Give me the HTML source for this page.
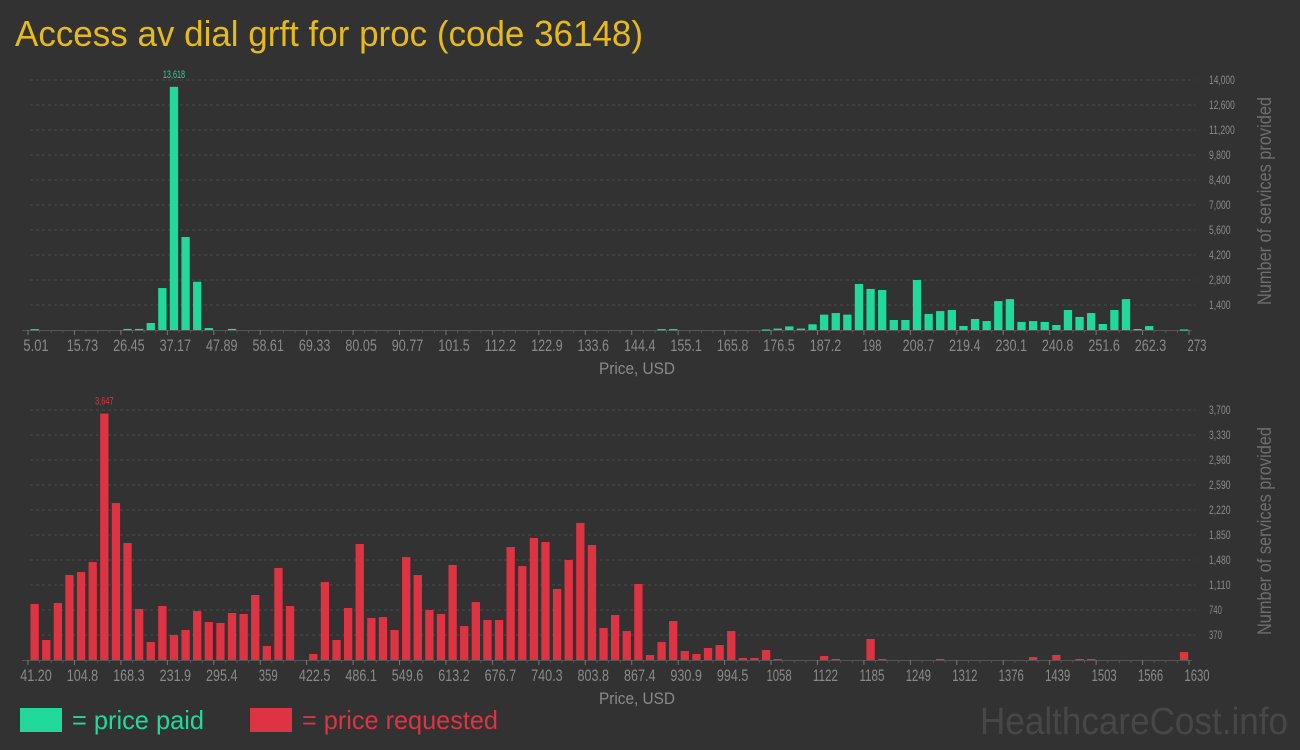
<!DOCTYPE html>
<html><head><meta charset="utf-8"><title>Access av dial grft for proc (code 36148)</title>
<style>
html,body{margin:0;padding:0;background:#323232;}
svg{display:block;font-family:"Liberation Sans Narrow","Liberation Sans",sans-serif;}
</style></head>
<body>
<svg id="chart" width="1300" height="750" viewBox="0 0 1300 750" xmlns="http://www.w3.org/2000/svg">
<rect x="0" y="0" width="1300" height="750" fill="#323232"/>
<text x="15" y="46" font-size="36" fill="#e6b91e" textLength="628" lengthAdjust="spacingAndGlyphs">Access av dial grft for proc (code 36148)</text>
<g id="top"></g>
<g id="bottom"></g>
<rect x="20" y="708" width="42" height="24" fill="#20d99b"/>
<text x="72" y="729" font-size="26" fill="#20d99b" textLength="132" lengthAdjust="spacingAndGlyphs">= price paid</text>
<rect x="250" y="708" width="42" height="24" fill="#dd3342"/>
<text x="302" y="729" font-size="26" fill="#dd3342" textLength="196" lengthAdjust="spacingAndGlyphs">= price requested</text>
<text x="980" y="734" font-size="38" fill="#474747" textLength="308" lengthAdjust="spacingAndGlyphs">HealthcareCost.info</text>
</svg>
<script>
// ---- top chart data (price paid) ----
const topTickLabels = ["5.01","15.73","26.45","37.17","47.89","58.61","69.33","80.05","90.77","101.5","112.2","122.9","133.6","144.4","155.1","165.8","176.5","187.2","198","208.7","219.4","230.1","240.8","251.6","262.3","273"];
const topBins = [0,8,9,10,11,12,13,14,15,17,54,55,63,64,65,66,67,68,69,70,71,72,73,74,75,76,77,78,79,80,81,82,83,84,85,86,87,88,89,90,91,92,93,94,95,96,99];
const topValues = [50,60,60,392,2350,13618,5208,2700,112,60,50,50,30,80,200,80,320,860,950,860,2580,2300,2240,560,560,2800,900,1060,1120,225,616,500,1620,1730,450,500,450,280,1120,730,950,336,1120,1730,56,220,30];
const topYTicks = [1400,2800,4200,5600,7000,8400,9800,11200,12600,14000];
// ---- bottom chart data (price requested) ----
const botTickLabels = ["41.20","104.8","168.3","231.9","295.4","359","422.5","486.1","549.6","613.2","676.7","740.3","803.8","867.4","930.9","994.5","1058","1122","1185","1249","1312","1376","1439","1503","1566","1630"];
const botBins = [0,1,2,3,4,5,6,7,8,9,10,11,12,13,14,15,16,17,18,19,20,21,22,24,25,26,27,28,29,30,31,32,33,34,35,36,37,38,39,40,41,42,43,44,45,46,47,48,49,50,51,52,53,54,55,56,57,58,59,60,61,62,63,64,68,69,72,73,78,86,88,90,91,99];
const botValues = [829,296,844,1258,1302,1450,3647,2323,1732,755,266,799,370,444,725,562,548,696,681,962,207,1362,799,89,1154,296,770,1717,622,636,444,1524,1258,740,681,1406,503,858,592,592,1672,1391,1806,1746,1051,1480,2028,1702,474,666,429,1125,74,266,577,133,89,178,222,429,30,30,148,15,59,15,311,15,15,44,74,15,15,118];
const botYTicks = [370,740,1110,1480,1850,2220,2590,2960,3330,3700];

const NS = "http://www.w3.org/2000/svg";
function mk(tag, attrs, parent){const e=document.createElementNS(NS,tag);for(const k in attrs)e.setAttribute(k,attrs[k]);parent.appendChild(e);return e;}
function fmt(v){return v.toLocaleString("en-US");}

function drawChart(g, cfg){
  const x0=28, x1=1189, nb=100, bw=(x1-x0)/nb;
  const xBin=i=>x0+i*bw;
  const yS=v=>cfg.base-(v/cfg.max)*(cfg.base-cfg.top);
  cfg.yTicks.forEach(t=>{
    const y=yS(t);
    const ln=mk("line",{x1:30,x2:1195,y1:y,y2:y,stroke:"#4a4a4a","stroke-dasharray":"3,3","stroke-width":1},g);
    
    
    const s=fmt(t);
    const tx=mk("text",{x:1209,y:y+4,"font-size":12,fill:"#8a8a8a",textLength:s.length*4.3,lengthAdjust:"spacingAndGlyphs"},g);
    tx.textContent=s;
    
    
  });
  const ax=mk("line",{x1:22,x2:1192,y1:cfg.base+0.5,y2:cfg.base+0.5,stroke:"#555","stroke-width":1},g);
  
  
  for(let i=0;i<=nb;i++){
    const major=i%4===0;
    const tk=mk("line",{x1:xBin(i),x2:xBin(i),y1:cfg.base,y2:cfg.base+(major?5:3),stroke:major?"#777":"#555","stroke-width":1},g);
    
    
  }
  cfg.tickLabels.forEach((s,k)=>{
    const x=xBin(k*4)+8;
    const tx=mk("text",{x:x,y:cfg.base+21,"font-size":17,fill:"#8a8a8a","text-anchor":"middle",textLength:s.length*6.3,lengthAdjust:"spacingAndGlyphs"},g);
    tx.textContent=s;
    
    
  });
  let maxI=0;
  cfg.values.forEach((v,j)=>{if(v>cfg.values[maxI])maxI=j;});
  cfg.bins.forEach((b,j)=>{
    const v=cfg.values[j];
    const y=yS(v);
    const r=mk("rect",{x:xBin(b)+2.5,y:y,width:bw-3.3,height:Math.max(cfg.base-y,1.2),fill:cfg.color},g);
    
    
    if(j===maxI){
      const s=fmt(v);
      const lb=mk("text",{x:xBin(b)+2.5+(bw-3.3)/2,y:y-9,"font-size":11,fill:cfg.color,"text-anchor":"middle",textLength:s.length*3.7,lengthAdjust:"spacingAndGlyphs"},g);
      lb.textContent=s;
      
      
    }
  });
  const xt=mk("text",{x:637,y:cfg.base+44,"font-size":17,fill:"#8a8a8a","text-anchor":"middle",textLength:76,lengthAdjust:"spacingAndGlyphs"},g);
  xt.textContent="Price, USD";
  
  
  const cy=(cfg.top+cfg.base)/2-4;
  const yt=mk("text",{x:0,y:0,"font-size":19,fill:"#6e6e6e","text-anchor":"middle",transform:"translate(1271,"+cy+") rotate(-90)",textLength:208,lengthAdjust:"spacingAndGlyphs"},g);
  yt.textContent="Number of services provided";
  
  
}

drawChart(document.getElementById("top"),{top:80,base:330,max:14000,yTicks:topYTicks,tickLabels:topTickLabels,bins:topBins,values:topValues,color:"#20d99b"});
drawChart(document.getElementById("bottom"),{top:410,base:660,max:3700,yTicks:botYTicks,tickLabels:botTickLabels,bins:botBins,values:botValues,color:"#dd3342"});
</script>
</body></html>
